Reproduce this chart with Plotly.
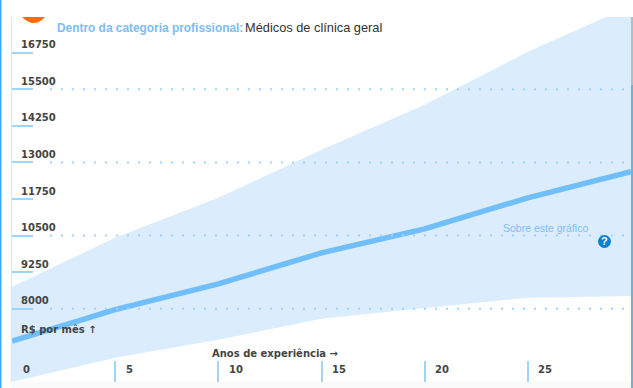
import plotly.graph_objects as go

years = [0, 5, 10, 15, 20, 25, 30]
median = [6900, 7970, 8850, 9910, 10730, 11790, 12680]
upper = [8750, 10430, 11790, 13430, 14965, 16775, 18350]
lower = [5500, 6330, 6940, 7660, 8030, 8375, 8440]
y_ticks = [8000, 9250, 10500, 11750, 13000, 14250, 15500, 16750]
y_grid = [8000, 10500, 13000, 15500]
x_ticks = [0, 5, 10, 15, 20, 25]

W, H = 633, 388
L, R, T, B = 12, 2, 17, 6
TICK = "#9fd5fc"
LABEL = "#444444"
LF = "DejaVu Sans"

fig = go.Figure()
fig.add_trace(go.Scatter(x=years, y=lower, mode="lines", line=dict(width=0), hoverinfo="skip", showlegend=False))
fig.add_trace(go.Scatter(x=years, y=upper, mode="lines", line=dict(width=0), fill="tonexty",
                         fillcolor="#dbedfd", hoverinfo="skip", showlegend=False))
fig.add_trace(go.Scatter(x=years, y=median, mode="lines", line=dict(color="#70bffb", width=5.5),
                         hoverinfo="skip", showlegend=False))


def px(x, y):
    return dict(x=(x - L) / (W - L - R), xref="paper", y=1 - (y - T) / (H - T - B), yref="paper", showarrow=False)


ann = []
for v in y_ticks:
    ann.append(dict(x=0, xref="paper", xshift=7, y=v, yref="y", yshift=8, text=f"<b>{v}</b>", showarrow=False,
                    xanchor="left", yanchor="middle", font=dict(family=LF, size=10, color=LABEL)))
for v in x_ticks:
    ann.append(dict(x=v, xref="x", xshift=8.5, y=0, yref="paper", yshift=13, text=f"<b>{v}</b>", showarrow=False,
                    xanchor="left", yanchor="middle", font=dict(family=LF, size=10, color=LABEL)))
ann.append(dict(**px(19, 329), text="<b>R$ por mês ↑</b>", xanchor="left", yanchor="middle",
                font=dict(family=LF, size=10, color=LABEL)))
ann.append(dict(**px(210, 353), text="<b>Anos de experiência →</b>", xanchor="left", yanchor="middle",
                font=dict(family=LF, size=10, color=LABEL)))
ann.append(dict(**px(55, 28), text="<b>Dentro da categoria profissional:</b>", xanchor="left", yanchor="middle",
                font=dict(family="Liberation Sans", size=11.9, color="#7dbcf5")))
ann.append(dict(**px(243, 28), text="Médicos de clínica geral", xanchor="left", yanchor="middle",
                font=dict(family="Liberation Sans", size=12.8, color="#333333")))
ann.append(dict(**px(501, 228), text="Sobre este gráfico", xanchor="left", yanchor="middle",
                font=dict(family="Liberation Sans", size=10.5, color="#80bdf5")))
ann.append(dict(**px(604.5, 241), text="<b>?</b>", xanchor="center", yanchor="middle",
                font=dict(family="Liberation Sans", size=11, color="#ffffff")))

shapes = []
for v in y_grid:
    shapes.append(dict(type="line", xref="paper", yref="y", x0=(50 - L) / (W - L - R), x1=(626 - L) / (W - L - R),
                       y0=v, y1=v, line=dict(color=TICK, width=2, dash="2px,9px"), layer="above"))


def pbox(x0, y0, x1, y1):
    return dict(xref="paper", yref="paper", x0=(x0 - L) / (W - L - R), x1=(x1 - L) / (W - L - R),
                y0=1 - (y0 - T) / (H - T - B), y1=1 - (y1 - T) / (H - T - B))


shapes += [
    dict(type="rect", **pbox(0, 0, 1.5, 388), fillcolor="#42a5f5", line_width=0, layer="above"),
    dict(type="rect", **pbox(11, 17, 12, 382), fillcolor="#d4e8fb", line_width=0, layer="above"),
    dict(type="rect", **pbox(631, 17, 633, 85), fillcolor="#b0bec5", line_width=0, layer="above"),
    dict(type="rect", **pbox(631, 85, 633, 388), fillcolor="#7aaed0", line_width=0, layer="above"),
    dict(type="rect", **pbox(12, 382, 631, 388), fillcolor="#fafafa", line_width=0, layer="below"),
    dict(type="circle", **pbox(598, 235, 611, 248), fillcolor="#0a7fd8", line_width=0, layer="above"),
    dict(type="path", xref="paper", yref="paper",
         path="M {} {} Q {} {} {} {} Z".format((22 - L) / (W - L - R), 1.0, (34 - L) / (W - L - R),
                                               1 - 12 / (H - T - B), (45 - L) / (W - L - R), 1.0),
         fillcolor="#ff6d0a", line_width=0, layer="above"),
]

fig.update_layout(
    width=W, height=H, margin=dict(l=L, r=R, t=T, b=B, pad=0),
    paper_bgcolor="#ffffff", plot_bgcolor="#ffffff", showlegend=False,
    annotations=ann, shapes=shapes,
    xaxis=dict(range=[0, 30], tickvals=x_ticks, ticktext=[""] * len(x_ticks), ticks="inside", ticklen=21,
               tickwidth=2, tickcolor=TICK, showgrid=False, zeroline=False, showline=False, fixedrange=True),
    yaxis=dict(range=[5500, 17966], tickvals=y_ticks, ticktext=[""] * len(y_ticks), ticks="inside", ticklen=21,
               tickwidth=2, tickcolor=TICK, showgrid=False, zeroline=False, showline=False, fixedrange=True),
)
fig.write_html("out.html", config=dict(displayModeBar=False),
               post_script="document.body.style.margin='0';document.body.style.overflow='hidden';")
